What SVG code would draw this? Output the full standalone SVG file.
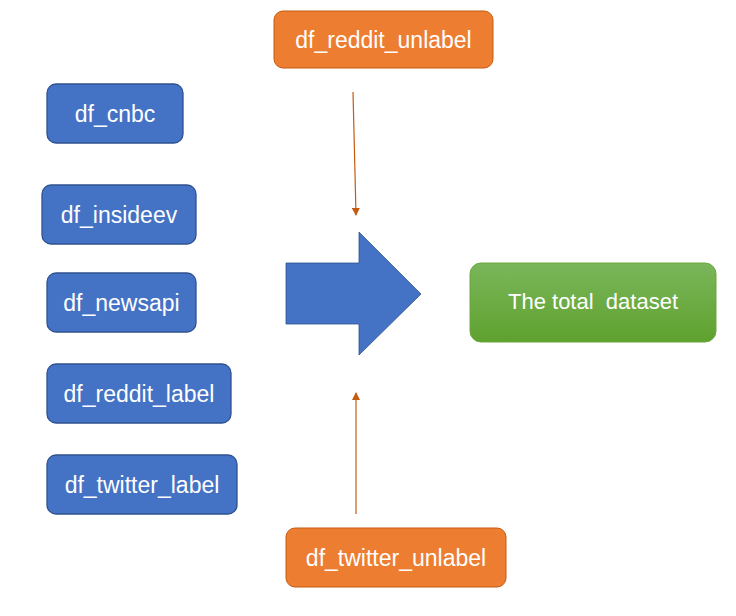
<svg xmlns="http://www.w3.org/2000/svg" width="736" height="616" viewBox="0 0 736 616">
<style>
.blue{fill:#4472C4;stroke:#2F528F;stroke-width:1.3}
.orange{fill:#ED7D31;stroke:#C55A11;stroke-width:1}
.lbl{font-family:"Liberation Sans","Noto Sans",sans-serif;font-size:23px;fill:#fff;text-anchor:middle;white-space:pre}
.big{font-size:22px}
.conn{stroke:#C55A11;stroke-width:1.2;fill:none}
</style>
<defs>
<linearGradient id="gg" x1="0" y1="0" x2="0" y2="1">
<stop offset="0" stop-color="#7AB65A"/>
<stop offset="1" stop-color="#5FA12F"/>
</linearGradient>
<marker id="ah" markerWidth="8" markerHeight="8" refX="7" refY="4" orient="auto" markerUnits="userSpaceOnUse">
<path d="M0,0 L8,4 L0,8 Z" fill="#C55A11"/>
</marker>
</defs>
<rect width="736" height="616" fill="#fff"/>
<g id="df_cnbc"><rect class="blue" x="47" y="84" width="136" height="59" rx="9"/><text class="lbl" x="115" y="122">df_cnbc</text></g>
<g id="df_insideev"><rect class="blue" x="42" y="185" width="154" height="59" rx="9"/><text class="lbl" x="119" y="223">df_insideev</text></g>
<g id="df_newsapi"><rect class="blue" x="47" y="273" width="149" height="59" rx="9"/><text class="lbl" x="121.5" y="311">df_newsapi</text></g>
<g id="df_reddit_label"><rect class="blue" x="47" y="364" width="184" height="59" rx="9"/><text class="lbl" x="139" y="402">df_reddit_label</text></g>
<g id="df_twitter_label"><rect class="blue" x="47" y="455" width="190" height="59" rx="9"/><text class="lbl" x="142" y="493">df_twitter_label</text></g>
<g id="df_reddit_unlabel"><rect class="orange" x="274" y="11" width="219" height="57" rx="9"/><text class="lbl" x="383.5" y="48">df_reddit_unlabel</text></g>
<g id="df_twitter_unlabel"><rect class="orange" x="286" y="528" width="220" height="59" rx="9"/><text class="lbl" x="396" y="566">df_twitter_unlabel</text></g>
<g id="merge_arrow"><polygon points="286,263 359,263 359,232 421,294 359,355 359,324 286,324" fill="#4472C4" stroke="#2F528F" stroke-width="0.8"/></g>
<g id="total_dataset"><rect x="470" y="263" width="246" height="79" rx="11" fill="url(#gg)" stroke="#6AA83E" stroke-width="1"/><text class="lbl big" x="593" y="309">The total  dataset</text></g>
<g id="connectors">
<line class="conn" x1="353" y1="92" x2="356" y2="215" marker-end="url(#ah)"/>
<line class="conn" x1="356" y1="514" x2="356" y2="393" marker-end="url(#ah)"/>
</g>
</svg>
